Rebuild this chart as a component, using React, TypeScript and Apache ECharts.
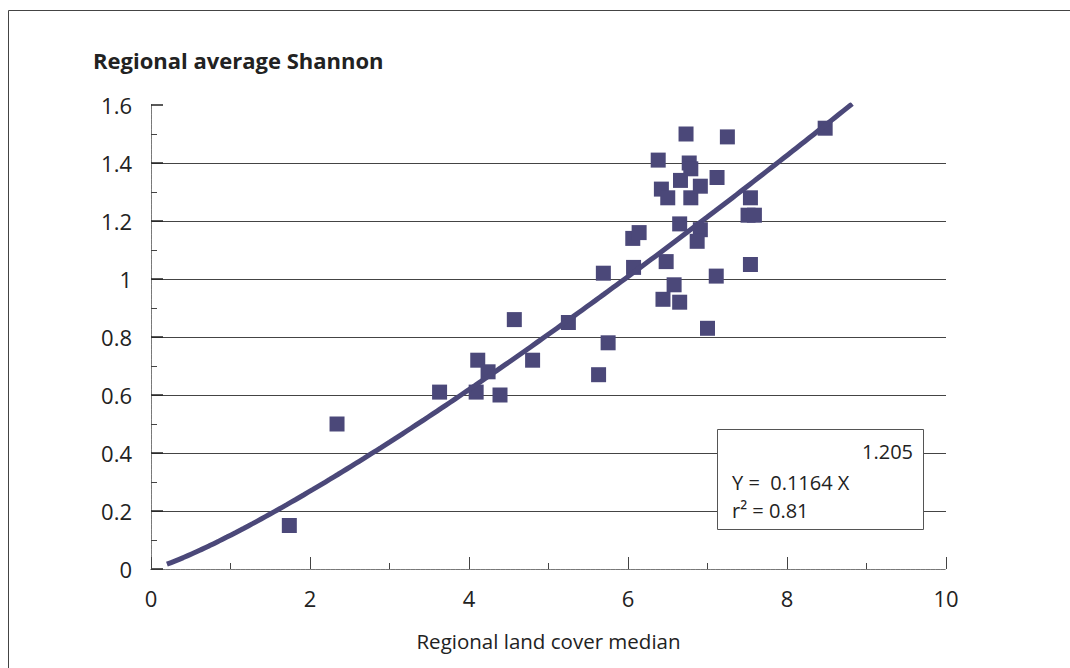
import React, { useEffect, useRef } from "react";
import * as echarts from "echarts";

const xValues = [1.74, 2.34, 3.63, 4.11, 4.09, 4.24, 4.39, 4.57, 4.80, 5.25, 5.63, 5.75, 5.69, 6.07, 6.06, 6.14, 6.38, 6.42, 6.50, 6.48, 6.44, 6.58, 6.65, 6.73, 6.77, 6.79, 6.66, 6.79, 6.65, 6.91, 6.91, 6.87, 7.00, 7.12, 7.11, 7.25, 7.54, 7.51, 7.59, 7.54, 8.48];
const yValues = [0.15, 0.50, 0.61, 0.72, 0.61, 0.68, 0.60, 0.86, 0.72, 0.85, 0.67, 0.78, 1.02, 1.04, 1.14, 1.16, 1.41, 1.31, 1.28, 1.06, 0.93, 0.98, 0.92, 1.50, 1.40, 1.38, 1.34, 1.28, 1.19, 1.32, 1.17, 1.13, 0.83, 1.35, 1.01, 1.49, 1.28, 1.22, 1.22, 1.05, 1.52];

const fitCoef = 0.1164;
const fitExp = 1.205;
const fitStart = 0.2;
const fitEnd = 8.82;

const xTicks = [0, 2, 4, 6, 8, 10];
const yTicks = [0, 0.2, 0.4, 0.6, 0.8, 1, 1.2, 1.4, 1.6];

const titleText = "Regional average Shannon";
const xName = "Regional land cover median";
const eqLines = ["1.205", "Y =  0.1164 X", "r\u00b2 = 0.81"];

const FONT = "'Open Sans', 'Noto Sans', sans-serif";
const MARK = "#4b4879";

export default function App() {
  const ref = useRef<HTMLDivElement>(null);
  useEffect(() => {
    if (!ref.current) return;
    const chart = echarts.init(ref.current, null, { renderer: "svg" });
    const points = xValues.map((x, i) => [x, yValues[i]]);
    const fit: number[][] = [];
    const steps = 80;
    for (let i = 0; i <= steps; i++) {
      const x = fitStart + ((fitEnd - fitStart) * i) / steps;
      fit.push([x, fitCoef * Math.pow(x, fitExp)]);
    }
    const dotted = { color: "#777", width: 1, type: [1.5, 1] as any };
    chart.setOption({
      animation: false,
      backgroundColor: "#fff",
      textStyle: { fontFamily: FONT },
      grid: { left: 151, right: 124, top: 105, bottom: 99, containLabel: false },
      xAxis: [
        {
          type: "value",
          min: xTicks[0],
          max: xTicks[xTicks.length - 1],
          interval: 2,
          name: xName,
          nameLocation: "middle",
          nameGap: 61,
          nameTextStyle: { fontFamily: FONT, fontSize: 20.5, color: "#222" },
          axisLine: { show: true, lineStyle: dotted },
          axisTick: { show: true, inside: true, length: 12, lineStyle: { color: "#444", width: 1 } },
          minorTick: { show: true, splitNumber: 2, length: 6, lineStyle: { color: "#444", width: 1 } },
          axisLabel: { fontFamily: FONT, fontSize: 22, color: "#222", margin: 18 },
          splitLine: { show: false },
        },
        {
          type: "value",
          position: "top",
          min: 0,
          max: 10,
          axisLine: { show: true, lineStyle: dotted },
          axisTick: { show: false },
          axisLabel: { show: false },
          splitLine: { show: false },
        },
      ],
      yAxis: [
        {
          type: "value",
          min: yTicks[0],
          max: yTicks[yTicks.length - 1],
          interval: 0.2,
          axisLine: { show: true, lineStyle: dotted },
          axisTick: { show: true, inside: true, length: 12, lineStyle: { color: "#222", width: 1.5 } },
          minorTick: { show: true, splitNumber: 2, length: 6, lineStyle: { color: "#444", width: 1 } },
          axisLabel: {
            fontFamily: FONT,
            fontSize: 22,
            color: "#222",
            margin: 19,
            formatter: (v: number) => String(Math.round(v * 10) / 10),
          },
          splitLine: { show: true, showMinLine: false, showMaxLine: false, lineStyle: { color: "#444", width: 1 } },
        },
        {
          type: "value",
          position: "right",
          min: 0,
          max: 1.6,
          axisLine: { show: true, lineStyle: dotted },
          axisTick: { show: false },
          axisLabel: { show: false },
          splitLine: { show: false },
        },
      ],
      graphic: [
        {
          type: "rect",
          shape: { x: 8.5, y: 10.5, width: 1200, height: 800 },
          style: { fill: "none", stroke: "#444", lineWidth: 1 },
          silent: true,
        },
        {
          type: "text",
          left: 93,
          top: 49,
          style: { text: titleText, font: `bold 22px ${FONT}`, fill: "#222" },
        },
        {
          type: "rect",
          z: 100,
          shape: { x: 717.5, y: 429.5, width: 206, height: 100 },
          style: { fill: "#fff", stroke: "#555", lineWidth: 1 },
        },
        {
          type: "text",
          z: 101,
          x: 913,
          y: 451,
          style: { text: eqLines[0], font: `20px ${FONT}`, fill: "#222", align: "right", verticalAlign: "middle" },
        },
        {
          type: "text",
          z: 101,
          x: 732,
          y: 482,
          style: { text: eqLines[1], font: `20px ${FONT}`, fill: "#222", align: "left", verticalAlign: "middle" },
        },
        {
          type: "text",
          z: 101,
          x: 732,
          y: 510,
          style: { text: eqLines[2], font: `20px ${FONT}`, fill: "#222", align: "left", verticalAlign: "middle" },
        },
      ],
      series: [
        {
          type: "scatter",
          data: points,
          symbol: "rect",
          symbolSize: 15,
          itemStyle: { color: MARK, opacity: 1 },
          z: 3,
        },
        {
          type: "line",
          data: fit,
          showSymbol: false,
          symbol: "none",
          smooth: true,
          lineStyle: { color: MARK, width: 5 },
          z: 4,
        },
      ],
    });
    return () => chart.dispose();
  }, []);
  return (
    <div
      ref={ref}
      style={{ position: "fixed", left: 0, top: 0, width: 1070, height: 668 }}
    />
  );
}
